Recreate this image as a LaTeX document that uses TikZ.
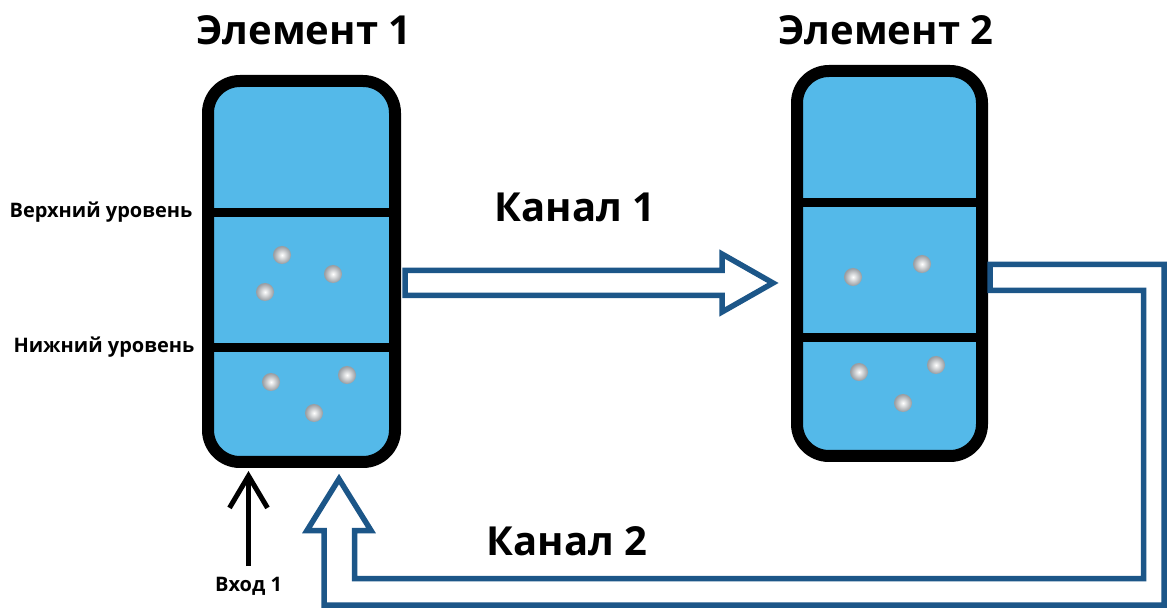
\documentclass[tikz,border=0pt]{standalone}
\usepackage{fontspec}
\setmainfont{Open Sans}
\usetikzlibrary{
  positioning,
  calc,
  arrows.meta}
\definecolor{tankcolor}{RGB}{84,185,233}
\definecolor{channelcolor}{RGB}{28,86,136}
\definecolor{particlecolor}{RGB}{150,155,160}
\tikzset{
  %% element : a vessel with three levels
  element/.style={
    rectangle,
    rounded corners=32pt,
    draw=black,
    line width=12pt,
    fill=tankcolor,
    minimum width=187pt,
    minimum height=381pt,
    inner sep=0pt
  },
  %% level : line between two levels of an element
  level/.style={black, line width=9pt},
  %% particle : a small sphere in an element
  particle/.style={inner color=white, outer color=particlecolor},
  %% channel : hollow arrow between the elements
  channel/.style={draw=channelcolor, fill=white, line width=5.5pt,
    line join=miter},
  %% input_arrow : black input arrow
  input_arrow/.style={-{Straight Barb[length=32pt, width=38pt]},
    black, line width=5pt},
  %% title : heading of an element or a channel
  title/.style={font=\fontsize{40}{45}\selectfont\bfseries, anchor=base},
  %% label : small text beside an element
  label/.style={font=\fontsize{20}{23}\selectfont\bfseries, anchor=base}
}

\begin{document}
\begin{tikzpicture}
  [x=1pt,
  y=-1pt]
  \useasboundingbox (0, 0) rectangle (1168, 609);

  %% Elements
  \node (el1) [element] at (301.5, 271.5) {};
  \node (el2) [element, minimum width=185pt, minimum height=385pt]
    at (889.5, 263.5) {};

  \draw [level] (el1.west |- 0, 213) -- (el1.east |- 0, 213);
  \draw [level] (el1.west |- 0, 348) -- (el1.east |- 0, 348);
  \draw [level] (el2.west |- 0, 203) -- (el2.east |- 0, 203);
  \draw [level] (el2.west |- 0, 338) -- (el2.east |- 0, 338);

  %% Particles
  \foreach \x/\y in {282/255, 333/274, 265/292, 271/382, 347/375, 314/413,
    853/277, 922/264, 859/372, 936/365, 903/403}
    \shade [particle] (\x, \y) circle (9);

  \node (title1) [title] at (304, 45) {Элемент 1};
  \node (title2) [title] at (886, 45) {Элемент 2};

  %% Channel 1
  \coordinate (ch1start) at ([xshift=4pt]el1.east |- 0, 270.5);
  \draw [channel] (ch1start) -- ++(317, 0) -- ++(0, -16.5) -- ++(51, 29)
    -- ++(-51, 29) -- ++(0, -16.5) -- ++(-317, 0) -- cycle;
  \node (ch1label) [title] at (575, 222) {Канал 1};

  %% Channel 2
  \coordinate (ch2start) at ([xshift=2pt]el2.east |- 0, 264.5);
  \draw [channel] (ch2start) -- (1164, 264.5) -- ++(0, 340.5)
    -- ++(-840, 0) -- ++(0, -74.5) -- ++(-17, 0) -- ++(32, -51.5)
    -- ++(32, 51.5) -- ++(-16.5, 0) -- ++(0, 48) -- ++(789, 0)
    -- ++(0, -288) -- (ch2start |- 0, 290.5) -- cycle;
  \node (ch2label) [title] at (567, 555) {Канал 2};

  %% Levels
  \node (upper) [label] at (101, 218) {Верхний уровень};
  \node (lower) [label] at (104, 353) {Нижний уровень};

  %% Input
  \node (input) [label] at (248.5, 591) {Вход 1};
  \draw [input_arrow] ([yshift=7pt]input.north) -- ([yshift=-3pt]el1.south -| input);

\end{tikzpicture}
\end{document}
